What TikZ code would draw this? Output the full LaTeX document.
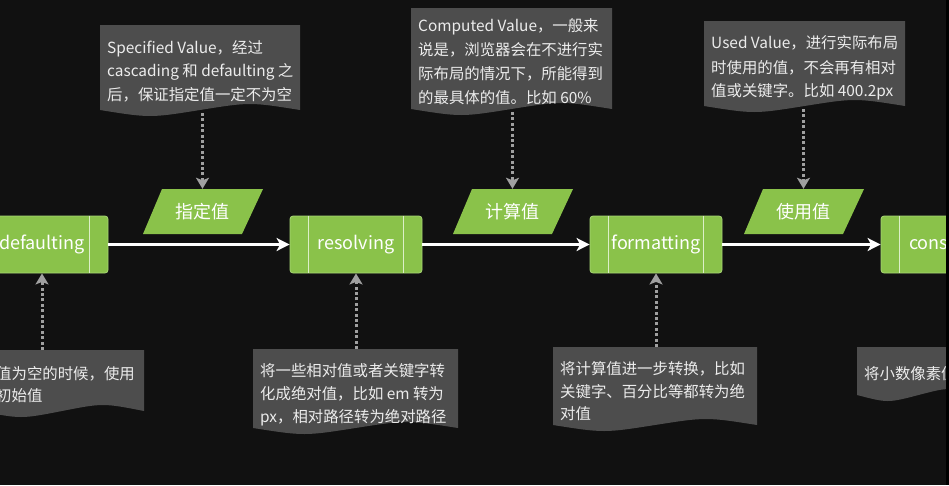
\documentclass[tikz,border=0pt]{standalone}
\usepackage{fontspec}
\setmainfont{Noto Sans CJK SC}
\usetikzlibrary{arrows.meta,calc}
\definecolor{bg}{HTML}{111111}
\definecolor{notegray}{HTML}{4D4D4D}
\definecolor{leaf}{HTML}{8AC24A}
\definecolor{leafline}{HTML}{A8D676}
\definecolor{innerwhite}{HTML}{DCEFC8}
\definecolor{notetext}{HTML}{ECECEC}
\definecolor{dotgray}{HTML}{A0A0A0}
\newcommand\notebox[4]{%
  \fill[notegray] (#1,#2) -- (#3,#2) -- (#3,#4)
    .. controls ({#3-(#3-#1)/4},{#4-8}) .. ({(#1+#3)/2},#4)
    .. controls ({#1+(#3-#1)/4},{#4+8}) .. (#1,#4) -- cycle;}
\newcommand\paraframe[1]{%
  \fill[leaf] ({#1-40},189) -- ({#1+61},189) -- ({#1+40},234) -- ({#1-59},234) -- cycle;}
\begin{document}
\begin{tikzpicture}[x=1pt,y=-1pt,
  proc/.style={draw=leafline, line width=0.8pt, fill=leaf, rounded corners=3pt,
    minimum width=132pt, minimum height=57pt, inner sep=0pt, text=white,
    font=\fontsize{18}{20}\selectfont, text height=13pt, text depth=4pt},
  boxlabel/.style={anchor=base west, inner sep=0pt, text=white, font=\fontsize{18}{20}\selectfont},
  ptext/.style={minimum width=100pt, minimum height=45pt, inner sep=0pt, text=white,
    font=\fontsize{18}{20}\selectfont},
  ntext/.style={anchor=base west, inner sep=0pt, text=notetext, font=\fontsize{15.4}{18}\selectfont},
  innerline/.style={draw=innerwhite, line width=0.8pt},
  flow/.style={draw=white, line width=2.6pt, -{Stealth[length=13pt,width=13pt,inset=3.5pt]}},
  dots/.style={draw=dotgray, line width=3pt, dash pattern=on 3pt off 2.4pt,
    -{Stealth[length=11pt,width=13pt,inset=2.5pt]}}
]
\fill[bg] (0,0) rectangle (949,485);
\useasboundingbox (0,0) rectangle (949,485);
\clip (0,0) rectangle (949,485);

% top notes
\notebox{100}{25}{300}{110}
\node[ntext] (n1a) at (107,53) {Specified Value，经过};
\node[ntext] (n1b) at (107,76) {cascading 和 defaulting 之};
\node[ntext] (n1c) at (107,100) {后，保证指定值一定不为空};

\notebox{411}{8}{612}{109}
\node[ntext] (n2a) at (418,31) {Computed Value，一般来};
\node[ntext] (n2b) at (418,55) {说是，浏览器会在不进行实};
\node[ntext] (n2c) at (418,79) {际布局的情况下，所能得到};
\node[ntext] (n2d) at (418,103) {的最具体的值。比如 60\%};

\notebox{704}{21}{905}{106}
\node[ntext] (n3a) at (711,48) {Used Value，进行实际布局};
\node[ntext] (n3b) at (711,73) {时使用的值，不会再有相对};
\node[ntext] (n3c) at (711,96) {值或关键字。比如 400.2px};

% bottom notes
\notebox{-20}{350}{144}{411}
\node[ntext] (m1a) at (-4,379) {值为空的时候，使用};
\node[ntext] (m1b) at (-4,401) {初始值};

\notebox{253}{349}{458}{428}
\node[ntext] (m2a) at (260,376) {将一些相对值或者关键字转};
\node[ntext] (m2b) at (260,399) {化成绝对值，比如 em 转为};
\node[ntext] (m2c) at (260,422) {px，相对路径转为绝对路径};

\notebox{553}{347}{757}{425}
\node[ntext] (m3a) at (560,374) {将计算值进一步转换，比如};
\node[ntext] (m3b) at (560,397) {关键字、百分比等都转为绝};
\node[ntext] (m3c) at (560,419) {对值};

\notebox{857}{347}{980}{395}
\node[ntext] (m4a) at (864,379) {将小数像素值};

% parallelograms
\paraframe{202}
\node[ptext] (p1) at (202.5,211.5) {指定值};
\paraframe{512}
\node[ptext] (p2) at (512.5,211.5) {计算值};
\paraframe{803}
\node[ptext] (p3) at (803.5,211.5) {使用值};

% process boxes
\node[proc] (def) at (42,244.5) {defaulting};
\node[proc] (res) at (356,244.5) {resolving};
\node[proc] (fmt) at (656,244.5) {formatting};
\node[proc] (con) at (947,244.5) {};
\node[boxlabel] (contxt) at (909,249) {cons};
\foreach \b in {def,res,fmt,con} {
  \draw[innerline] ($(\b.north west)+(19,0)$) -- ($(\b.south west)+(19,0)$);
  \draw[innerline] ($(\b.north east)+(-19,0)$) -- ($(\b.south east)+(-19,0)$);
}

% flow arrows
\draw[flow] (def) -- (res);
\draw[flow] (res) -- (fmt);
\draw[flow] (fmt) -- (con);

% dotted arrows
\coordinate (t1) at (202.5,113);
\coordinate (t2) at (512.5,112);
\coordinate (t3) at (803.5,109);
\draw[dots] (t1) -- (p1.north);
\draw[dots] (t2) -- (p2.north);
\draw[dots] (t3) -- (p3.north);
\coordinate (b1) at (42,350);
\coordinate (b2) at (356,349);
\coordinate (b3) at (656,347);
\draw[dots] (b1) -- (def.south);
\draw[dots] (b2) -- (res.south);
\draw[dots] (b3) -- (fmt.south);

% right edge strip
\fill[black] (946,0) rectangle (949,485);
\end{tikzpicture}
\end{document}
